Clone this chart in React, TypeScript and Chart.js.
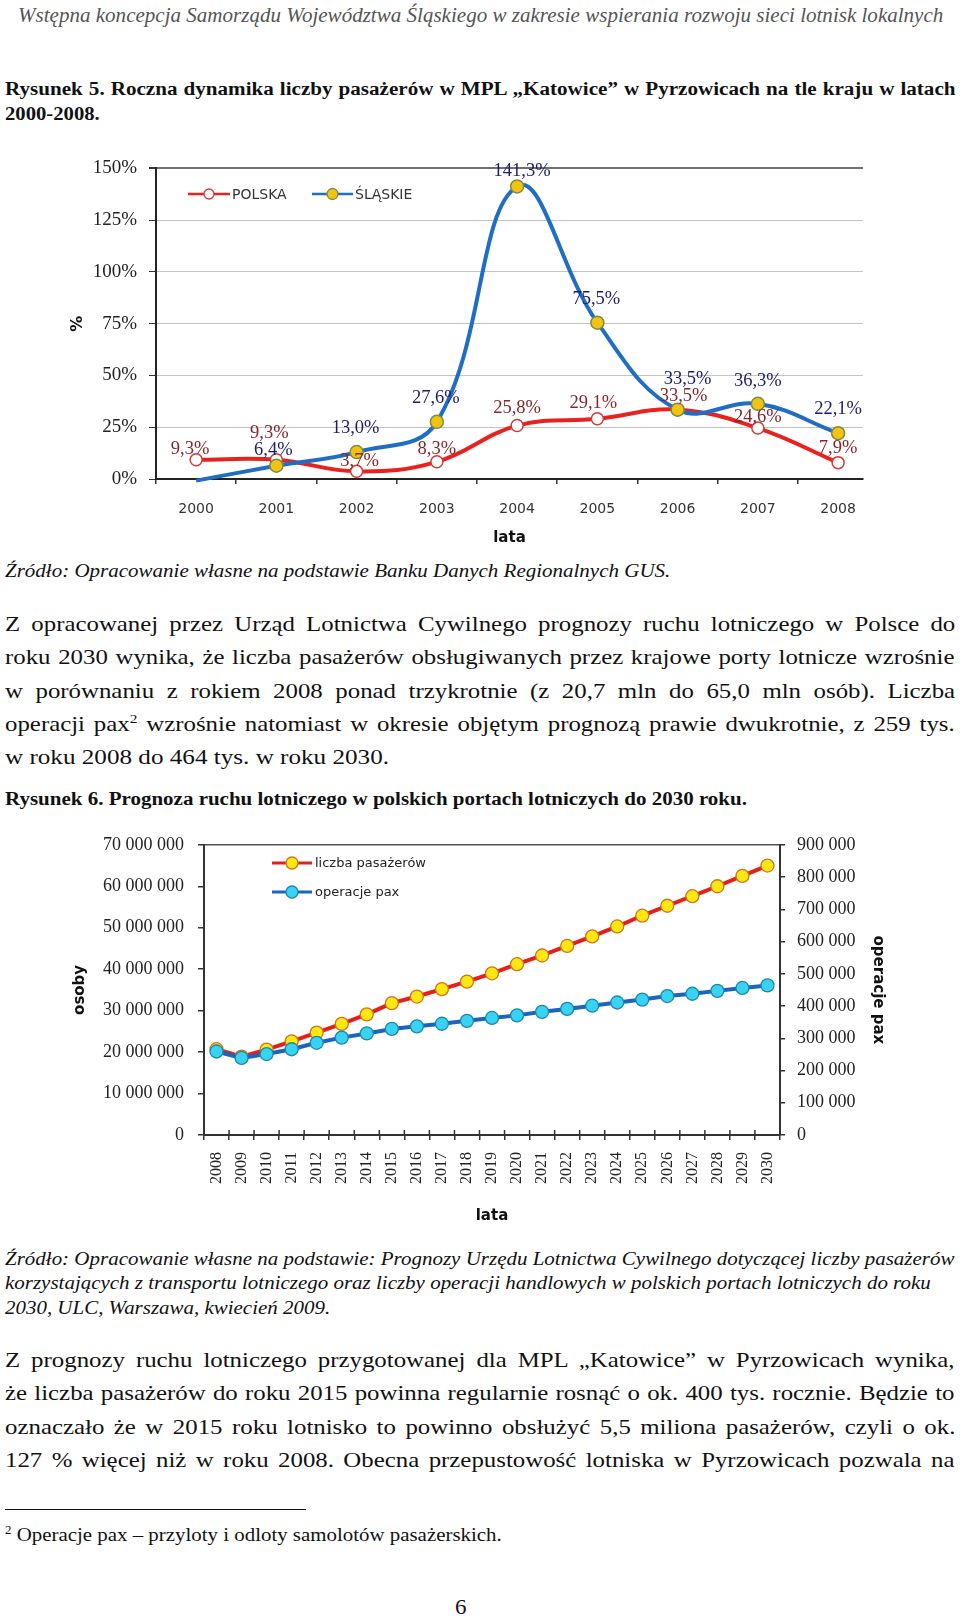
import React, { useEffect, useLayoutEffect, useRef, useState } from 'react';
import { Chart, registerables } from 'chart.js';

Chart.register(...registerables);

// ---------- DATA: chart 1 (Rysunek 5) ----------
const YEARS_1 = ['2000', '2001', '2002', '2003', '2004', '2005', '2006', '2007', '2008'];
const POLSKA = [9.3, 9.3, 3.7, 8.3, 25.8, 29.1, 33.5, 24.6, 7.9];
const SLASKIE = [-0.8, 6.4, 13.0, 27.6, 141.3, 75.5, 33.5, 36.3, 22.1];
const SLASKIE_SHOWN = [false, true, true, true, true, true, true, true, true];
const Y1_MIN = 0;
const Y1_MAX = 150;
const Y1_STEP = 25;

// ---------- DATA: chart 2 (Rysunek 6) ----------
const YEARS_2 = ['2008', '2009', '2010', '2011', '2012', '2013', '2014', '2015', '2016', '2017', '2018', '2019',
  '2020', '2021', '2022', '2023', '2024', '2025', '2026', '2027', '2028', '2029', '2030'];
const PASAZEROWIE = [20700000, 18900000, 20600000, 22600000, 24700000, 26800000, 29100000, 31800000, 33400000,
  35200000, 37000000, 39000000, 41200000, 43300000, 45600000, 47900000, 50300000, 52900000, 55300000, 57600000,
  60000000, 62500000, 65000000];
const OPERACJE = [259000, 239000, 251000, 266000, 286000, 302000, 315000, 329000, 337000, 345000, 354000, 363000,
  371000, 382000, 391000, 401000, 411000, 420000, 431000, 438000, 447000, 456000, 464000];
const Y2_MAX = 70000000;
const Y2_STEP = 10000000;
const Y3_MAX = 900000;
const Y3_STEP = 100000;

// label nudges for chart 1 data labels (style, not data)
const OFF_POLSKA: [number, number][] = [[-6, -11], [-7, -27], [3, -10], [0, -13], [0, -17], [-4, -16], [6, -13], [0, -11], [0, -15]];
const OFF_SLASKIE: [number, number][] = [[0, 0], [-3, -16], [-1, -24], [-1, -24], [5, -15], [-1, -24], [10, -30], [0, -23], [0, -24]];

const fmtPct = (v: number) => v.toFixed(1).replace('.', ',') + '%';
const fmtSpace = (v: number) => String(v).replace(/\B(?=(\d{3})+(?!\d))/g, ' ');

function legendItem(ctx: CanvasRenderingContext2D, x1: number, x2: number, y: number, lineColor: string, lw: number,
  fill: string, stroke: string, r: number, text: string, tx: number, font: string, color: string) {
  ctx.save();
  ctx.strokeStyle = lineColor;
  ctx.lineWidth = lw;
  ctx.beginPath();
  ctx.moveTo(x1, y);
  ctx.lineTo(x2, y);
  ctx.stroke();
  ctx.beginPath();
  ctx.arc((x1 + x2) / 2, y, r, 0, Math.PI * 2);
  ctx.fillStyle = fill;
  ctx.fill();
  ctx.lineWidth = 1.3;
  ctx.strokeStyle = stroke;
  ctx.stroke();
  ctx.font = font;
  ctx.fillStyle = color;
  ctx.textAlign = 'left';
  ctx.textBaseline = 'middle';
  ctx.fillText(text, tx, y + 1);
  ctx.restore();
}

const chart1Plugin = {
  id: 'chart1Extras',
  afterDatasetsDraw(chart: any) {
    const ctx = chart.ctx as CanvasRenderingContext2D;
    ctx.save();
    ctx.font = '18.5px "Liberation Serif"';
    ctx.textAlign = 'center';
    ctx.textBaseline = 'middle';
    const m0 = chart.getDatasetMeta(0);
    ctx.fillStyle = '#86262a';
    POLSKA.forEach((v, i) => {
      const p = m0.data[i];
      ctx.fillText(fmtPct(v), p.x + OFF_POLSKA[i][0], p.y + OFF_POLSKA[i][1]);
    });
    const m1 = chart.getDatasetMeta(1);
    ctx.fillStyle = '#1c1c68';
    SLASKIE.forEach((v, i) => {
      if (!SLASKIE_SHOWN[i]) return;
      const p = m1.data[i];
      ctx.fillText(fmtPct(v), p.x + OFF_SLASKIE[i][0], p.y + OFF_SLASKIE[i][1]);
    });
    ctx.restore();
  },
  afterDraw(chart: any) {
    const ctx = chart.ctx as CanvasRenderingContext2D;
    const f = '14px "DejaVu Sans"';
    legendItem(ctx, 128, 170, 49, '#e8231f', 2.5, '#ffffff', '#d23a3a', 5, 'POLSKA', 172, f, '#333');
    legendItem(ctx, 252, 293, 49, '#1f6dc5', 2.5, '#f2c313', '#7b8c3c', 5.5, 'ŚLĄSKIE', 295, f, '#333');
  },
};

const chart2Plugin = {
  id: 'chart2Extras',
  afterDraw(chart: any) {
    const ctx = chart.ctx as CanvasRenderingContext2D;
    const a = chart.chartArea;
    const n = YEARS_2.length;
    ctx.save();
    ctx.strokeStyle = '#333';
    ctx.lineWidth = 1.5;
    for (let i = 1; i <= n; i++) {
      const x = a.left + (i * (a.right - a.left)) / n;
      ctx.beginPath();
      ctx.moveTo(x, a.bottom);
      ctx.lineTo(x, a.bottom - 5);
      ctx.stroke();
    }
    ctx.restore();
    const f = '13px "DejaVu Sans"';
    legendItem(ctx, 212, 252, 43, '#e3211b', 3, '#ffe812', '#d0741a', 6, 'liczba pasażerów', 255, f, '#222');
    legendItem(ctx, 212, 252, 72, '#1d63c0', 3, '#38d2f2', '#1d88a8', 6, 'operacje pax', 255, f, '#222');
  },
};

function Chart1() {
  const ref = useRef<HTMLCanvasElement>(null);
  useEffect(() => {
    const chart = new Chart(ref.current as HTMLCanvasElement, {
      type: 'line',
      data: {
        datasets: [
          {
            label: 'POLSKA',
            data: POLSKA.map((y, i) => ({ x: i, y })),
            borderColor: '#e8231f',
            borderWidth: 4,
            tension: 0.4,
            pointRadius: 6,
            pointBackgroundColor: '#ffffff',
            pointBorderColor: '#d23a3a',
            pointBorderWidth: 1.5,
            order: 2,
          },
          {
            label: 'ŚLĄSKIE',
            data: SLASKIE.map((y, i) => ({ x: i, y })),
            borderColor: '#1f6dc5',
            borderWidth: 4,
            tension: 0.4,
            pointRadius: (c: any) => (SLASKIE_SHOWN[c.dataIndex] ? 6.5 : 0),
            pointBackgroundColor: '#f2c313',
            pointBorderColor: '#7b8c3c',
            pointBorderWidth: 1.5,
            clip: false,
            order: 1,
          },
        ],
      } as any,
      options: {
        responsive: false,
        animation: false,
        events: [],
        layout: { padding: { top: 22, right: 37, left: 0, bottom: 0 } },
        plugins: { legend: { display: false }, tooltip: { enabled: false } },
        scales: {
          x: {
            type: 'linear',
            min: -0.5,
            max: 8.31,
            afterBuildTicks: (s: any) => {
              const t: any[] = [];
              for (let v = -0.5; v <= YEARS_1.length - 1 + 0.01; v += 0.5) t.push({ value: v });
              s.ticks = t;
            },
            ticks: {
              autoSkip: false,
              maxRotation: 0,
              padding: 17,
              color: '#333',
              font: { family: 'DejaVu Sans', size: 14 },
              callback: (v: any) => (Number.isInteger(v) ? YEARS_1[v] : ''),
            },
            grid: {
              drawOnChartArea: false,
              tickLength: 5,
              lineWidth: 1.5,
              tickColor: (c: any) => (c.tick && Number.isInteger(c.tick.value) ? 'rgba(0,0,0,0)' : '#333'),
            },
            border: { color: '#222', width: 2 },
            title: {
              display: true,
              text: 'lata',
              color: '#111',
              font: { family: 'DejaVu Sans', size: 15, weight: 'bold' },
              padding: { top: 0, bottom: 3 },
            },
            afterFit: (s: any) => { s.height = 71; },
          },
          y: {
            min: Y1_MIN,
            max: Y1_MAX,
            ticks: {
              stepSize: Y1_STEP,
              padding: 12,
              color: '#222',
              font: { family: 'Liberation Serif', size: 19 },
              callback: (v: any) => v + '%',
            },
            grid: {
              color: (c: any) => (c.tick && c.tick.value === Y1_MAX ? '#707070' : '#c4c4c4'),
              lineWidth: (c: any) => (c.tick && c.tick.value === Y1_MAX ? 2 : 1),
              tickLength: 7,
              tickColor: '#333',
            },
            border: { color: '#222', width: 2 },
            title: {
              display: true,
              text: '%',
              color: '#111',
              font: { family: 'DejaVu Sans', size: 16, weight: 'bold' },
              padding: { top: 8, bottom: 0 },
            },
            afterFit: (s: any) => { s.width = 96; },
          },
        },
      } as any,
      plugins: [chart1Plugin],
    });
    return () => chart.destroy();
  }, []);
  return <canvas ref={ref} width={840} height={405} style={{ position: 'absolute', left: 60, top: 145, width: 840, height: 405 }} />;
}

function Chart2() {
  const ref = useRef<HTMLCanvasElement>(null);
  useEffect(() => {
    const chart = new Chart(ref.current as HTMLCanvasElement, {
      type: 'line',
      data: {
        labels: YEARS_2,
        datasets: [
          {
            label: 'liczba pasażerów',
            data: PASAZEROWIE,
            yAxisID: 'y',
            borderColor: '#e3211b',
            borderWidth: 4,
            tension: 0,
            pointRadius: 6.5,
            pointBackgroundColor: '#ffe812',
            pointBorderColor: '#d0741a',
            pointBorderWidth: 1.3,
            order: 2,
          },
          {
            label: 'operacje pax',
            data: OPERACJE,
            yAxisID: 'y1',
            borderColor: '#1d63c0',
            borderWidth: 4,
            tension: 0,
            pointRadius: 6.5,
            pointBackgroundColor: '#38d2f2',
            pointBorderColor: '#1d88a8',
            pointBorderWidth: 1.3,
            order: 1,
          },
        ],
      },
      options: {
        responsive: false,
        animation: false,
        events: [],
        layout: { padding: { top: 21, right: 0, left: 0, bottom: 0 } },
        plugins: { legend: { display: false }, tooltip: { enabled: false } },
        scales: {
          x: {
            type: 'category',
            offset: true,
            ticks: {
              autoSkip: false,
              maxRotation: 90,
              minRotation: 90,
              padding: 12,
              color: '#222',
              font: { family: 'Liberation Serif', size: 16 },
            },
            grid: { offset: true, drawOnChartArea: false, tickLength: 5, lineWidth: 1.5, tickColor: '#333' },
            border: { color: '#333', width: 2 },
            title: {
              display: true,
              text: 'lata',
              color: '#111',
              font: { family: 'DejaVu Sans', size: 15, weight: 'bold' },
              padding: { top: 0, bottom: 5 },
            },
            afterFit: (s: any) => { s.height = 95; },
          },
          y: {
            position: 'left',
            min: 0,
            max: Y2_MAX,
            ticks: {
              stepSize: Y2_STEP,
              padding: 14,
              color: '#222',
              font: { family: 'Liberation Serif', size: 18 },
              callback: (v: any) => fmtSpace(v),
            },
            grid: {
              color: (c: any) => (c.tick && c.tick.value === Y2_MAX ? '#555' : 'rgba(0,0,0,0)'),
              lineWidth: 1.5,
              tickLength: 6,
              tickColor: '#333',
            },
            border: { color: '#333', width: 2 },
            title: {
              display: true,
              text: 'osoby',
              color: '#111',
              font: { family: 'DejaVu Sans', size: 15, weight: 'bold' },
              padding: { top: 11, bottom: 0 },
            },
            afterFit: (s: any) => { s.width = 144; },
          },
          y1: {
            position: 'right',
            min: 0,
            max: Y3_MAX,
            ticks: {
              stepSize: Y3_STEP,
              padding: 12,
              color: '#222',
              font: { family: 'Liberation Serif', size: 18 },
              callback: (v: any) => fmtSpace(v),
            },
            grid: { drawOnChartArea: false, tickLength: 5, lineWidth: 1.5, tickColor: '#333' },
            border: { color: '#333', width: 2 },
            title: {
              display: true,
              text: 'operacje pax',
              color: '#111',
              font: { family: 'DejaVu Sans', size: 15, weight: 'bold' },
              padding: { top: 13, bottom: 0 },
            },
            afterFit: (s: any) => { s.width = 120; },
          },
        },
      } as any,
      plugins: [chart2Plugin],
    });
    return () => chart.destroy();
  }, []);
  return <canvas ref={ref} width={840} height={410} style={{ position: 'absolute', left: 60, top: 820, width: 840, height: 410 }} />;
}

// ---------- page text ----------
const SX = 1.14;
type Mode = 'justify' | 'fit' | 'left';
interface LineProps {
  x0: number; x1: number; y: number; size: number; mode: Mode;
  bold?: boolean; italic?: boolean; color?: string; children: React.ReactNode;
}

function Line({ x0, x1, y, size, mode, bold, italic, color = '#111', children }: LineProps) {
  const ref = useRef<HTMLSpanElement>(null);
  const [fmt, setFmt] = useState({ ws: 0, sc: SX });
  useLayoutEffect(() => {
    const el = ref.current;
    if (!el) return;
    const prevWs = el.style.wordSpacing;
    el.style.wordSpacing = '0px';
    const natural = el.offsetWidth;
    el.style.wordSpacing = prevWs;
    const W = x1 - x0;
    const spaces = (el.textContent || '').split(' ').length - 1;
    if (mode === 'fit') setFmt({ ws: 0, sc: W / natural });
    else if (mode === 'justify') {
      if (natural * SX < W && spaces > 0) setFmt({ ws: (W / SX - natural) / spaces, sc: SX });
      else setFmt({ ws: 0, sc: W / natural });
    } else setFmt({ ws: 0, sc: SX });
  }, [x0, x1, mode]);
  const lh = Math.round(size * 1.25);
  return (
    <span
      ref={ref}
      style={{
        position: 'absolute', display: 'block', left: x0, top: y - lh / 2, height: lh, lineHeight: lh + 'px',
        whiteSpace: 'pre', fontFamily: '"Liberation Serif", "Times New Roman", serif', fontSize: size,
        fontWeight: bold ? 700 : 400, fontStyle: italic ? 'italic' : 'normal', color,
        wordSpacing: fmt.ws + 'px', transform: `scaleX(${fmt.sc})`, transformOrigin: '0 0',
      }}
    >
      {children}
    </span>
  );
}

const Sup = ({ children }: { children: React.ReactNode }) => (
  <sup style={{ fontSize: '0.62em', verticalAlign: 'super', lineHeight: 0 }}>{children}</sup>
);

const BODY = 21.8;
const CAP = 18.5;
const SRC = 18.5;

export default function App() {
  return (
    <div style={{ position: 'absolute', left: 0, top: 0, width: 960, height: 1617, background: '#fff', overflow: 'hidden' }}>
      <Line x0={18} x1={943} y={15} size={21} mode="fit" italic color="#555">
        Wstępna koncepcja Samorządu Województwa Śląskiego w zakresie wspierania rozwoju sieci lotnisk lokalnych
      </Line>

      <Line x0={5} x1={956} y={89} size={CAP} mode="justify" bold>
        Rysunek 5. Roczna dynamika liczby pasażerów w MPL „Katowice” w Pyrzowicach na tle kraju w latach
      </Line>
      <Line x0={5} x1={100} y={114} size={CAP} mode="fit" bold>2000-2008.</Line>

      <Chart1 />

      <Line x0={5} x1={670} y={571} size={SRC} mode="fit" italic>
        Źródło: Opracowanie własne na podstawie Banku Danych Regionalnych GUS.
      </Line>

      <Line x0={5} x1={955} y={624.5} size={BODY} mode="justify">
        Z opracowanej przez Urząd Lotnictwa Cywilnego prognozy ruchu lotniczego w Polsce do
      </Line>
      <Line x0={5} x1={955} y={657.8} size={BODY} mode="justify">
        roku 2030 wynika, że liczba pasażerów obsługiwanych przez krajowe porty lotnicze wzrośnie
      </Line>
      <Line x0={5} x1={955} y={691} size={BODY} mode="justify">
        w porównaniu z rokiem 2008 ponad trzykrotnie (z 20,7 mln do 65,0 mln osób). Liczba
      </Line>
      <Line x0={5} x1={955} y={724.3} size={BODY} mode="justify">
        operacji pax<Sup>2</Sup> wzrośnie natomiast w okresie objętym prognozą prawie dwukrotnie, z 259 tys.
      </Line>
      <Line x0={5} x1={389} y={757.5} size={BODY} mode="fit">w roku 2008 do 464 tys. w roku 2030.</Line>

      <Line x0={5} x1={747} y={799} size={CAP} mode="fit" bold>
        Rysunek 6. Prognoza ruchu lotniczego w polskich portach lotniczych do 2030 roku.
      </Line>

      <Chart2 />

      <Line x0={5} x1={954} y={1259} size={SRC} mode="justify" italic>
        Źródło: Opracowanie własne na podstawie: Prognozy Urzędu Lotnictwa Cywilnego dotyczącej liczby pasażerów
      </Line>
      <Line x0={5} x1={931} y={1283.5} size={SRC} mode="fit" italic>
        korzystających z transportu lotniczego oraz liczby operacji handlowych w polskich portach lotniczych do roku
      </Line>
      <Line x0={5} x1={330} y={1308} size={SRC} mode="fit" italic>2030, ULC, Warszawa, kwiecień 2009.</Line>

      <Line x0={5} x1={955} y={1360} size={BODY} mode="justify">
        Z prognozy ruchu lotniczego przygotowanej dla MPL „Katowice” w Pyrzowicach wynika,
      </Line>
      <Line x0={5} x1={955} y={1393.5} size={BODY} mode="justify">
        że liczba pasażerów do roku 2015 powinna regularnie rosnąć o ok. 400 tys. rocznie. Będzie to
      </Line>
      <Line x0={5} x1={955} y={1427} size={BODY} mode="justify">
        oznaczało że w 2015 roku lotnisko to powinno obsłużyć 5,5 miliona pasażerów, czyli o ok.
      </Line>
      <Line x0={5} x1={955} y={1460.5} size={BODY} mode="justify">
        127 % więcej niż w roku 2008. Obecna przepustowość lotniska w Pyrzowicach pozwala na
      </Line>

      <div style={{ position: 'absolute', left: 5, top: 1509, width: 301, height: 1, background: '#111' }} />
      <Line x0={5} x1={502} y={1535} size={19} mode="fit">
        <Sup>2</Sup> Operacje pax – przyloty i odloty samolotów pasażerskich.
      </Line>
      <Line x0={455} x1={467} y={1607} size={21} mode="fit">6</Line>
    </div>
  );
}
